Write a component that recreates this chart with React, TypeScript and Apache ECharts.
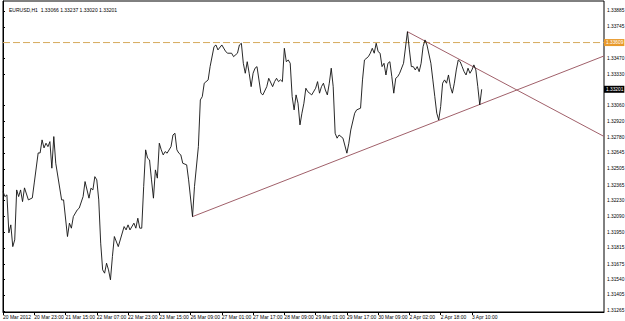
import React, { useEffect, useRef } from "react";
import * as echarts from "echarts";

const headerText = "EURUSD,H1  1.33066 1.33237 1.33020 1.33201";

const barIndex = [
  0, 1, 2, 3, 4, 5, 6, 7, 8, 9, 10, 11, 13, 15, 16, 18, 19, 20, 21, 22, 23, 24, 25, 26, 27, 30, 31, 33, 34, 35, 36, 38, 39, 41, 42,
  44, 45, 46, 47, 48, 49, 50, 51, 52, 53, 54, 55, 56, 57, 59, 62, 63, 64, 65, 67, 68, 69, 70, 71, 72, 73, 74, 75, 76, 77, 78, 79,
  80, 81, 82, 83, 84, 86, 87, 88, 89, 90, 91, 92, 94, 95, 97, 98, 100, 101, 102, 103, 105, 106, 108, 109, 110, 112, 114, 115, 117,
  118, 120, 121, 122, 123, 124, 125, 126, 127, 128, 129, 130, 132, 133, 135, 136, 138, 139, 140, 141, 142, 143, 144, 145, 146, 147,
  148, 149, 150, 151, 152, 153, 154, 155, 156, 158, 160, 161, 162, 163, 164, 165, 166, 167, 168, 169, 170, 171, 172, 173, 174, 176,
  177, 178, 180, 181, 183, 184, 185, 187, 188, 189, 190, 191, 192, 193, 194, 195, 196, 197, 198, 199, 200, 201, 202, 203, 205, 207,
  208, 209, 210, 211, 212, 213, 214, 215, 216, 217, 219, 220, 221, 222, 223, 224, 225, 226, 227, 228, 229, 230, 231, 232, 233, 234,
  235, 236, 237, 238, 239, 240, 241, 242, 243, 244, 245,
];

const closePrice = [
  1.32307, 1.32264, 1.32279, 1.31947, 1.32017, 1.31827, 1.31886, 1.32322, 1.32264, 1.32322, 1.3222, 1.3234, 1.32235, 1.32252,
  1.32383, 1.32645, 1.32645, 1.32759, 1.32689, 1.3273, 1.327, 1.32744, 1.32512, 1.32788, 1.32555, 1.32235, 1.32235, 1.31915,
  1.32032, 1.31988, 1.32089, 1.32148, 1.32163, 1.32264, 1.32395, 1.3225, 1.32337, 1.32322, 1.32438, 1.3241, 1.32235, 1.31857,
  1.31624, 1.31595, 1.31682, 1.31624, 1.31537, 1.3174, 1.31915, 1.31827, 1.32002, 1.31973, 1.32017, 1.31973, 1.32032, 1.31988,
  1.32075, 1.31988, 1.31988, 1.32351, 1.32672, 1.32599, 1.32584, 1.3241, 1.3225, 1.32497, 1.32425, 1.3273, 1.32672, 1.32628,
  1.32657, 1.32643, 1.327, 1.32802, 1.32817, 1.32672, 1.32643, 1.32628, 1.32555, 1.32541, 1.3241, 1.32089, 1.32351, 1.327,
  1.33108, 1.33137, 1.33254, 1.33283, 1.33399, 1.33573, 1.33588, 1.33545, 1.33588, 1.3353, 1.33516, 1.33516, 1.33486, 1.33516,
  1.33588, 1.33603, 1.33428, 1.33341, 1.33442, 1.33341, 1.33224, 1.33341, 1.33385, 1.33399, 1.33167, 1.33152, 1.33224, 1.33297,
  1.33224, 1.33268, 1.33297, 1.33268, 1.33283, 1.33268, 1.33559, 1.33442, 1.33457, 1.33428, 1.33137, 1.33021, 1.33152, 1.33079,
  1.3289, 1.32992, 1.33079, 1.3321, 1.3318, 1.33152, 1.3321, 1.33268, 1.33167, 1.33224, 1.33254, 1.33195, 1.33152, 1.33254,
  1.33385, 1.33224, 1.32817, 1.32774, 1.32802, 1.32788, 1.32774, 1.32643, 1.3273, 1.32846, 1.32992, 1.33021, 1.33036, 1.33283,
  1.33457, 1.33486, 1.33516, 1.33559, 1.33516, 1.33603, 1.3353, 1.33516, 1.33399, 1.33428, 1.33326, 1.33428, 1.33442, 1.33311,
  1.33167, 1.33297, 1.33311, 1.33341, 1.33428, 1.33704, 1.33545, 1.33399, 1.33399, 1.3337, 1.33399, 1.33355, 1.33428, 1.33573,
  1.33632, 1.33588, 1.33428, 1.33283, 1.33137, 1.32992, 1.32933, 1.3305, 1.33254, 1.33283, 1.33254, 1.33326, 1.33224, 1.33167,
  1.33254, 1.3337, 1.33457, 1.33442, 1.33399, 1.33355, 1.33326, 1.33385, 1.33341, 1.3337, 1.33414, 1.3337, 1.33224, 1.33064,
  1.33201,
];

const lowerTrendBars = [97, 307.6];
const lowerTrendPrices = [1.32089, 1.33492];
const upperTrendBars = [207, 307.6];
const upperTrendPrices = [1.33704, 1.32789];

const axisStartBar = 0;
const axisEndBar = 307.6;
const levelPrice = 1.33609;
const bidPrice = 1.33201;

const timeTickBars = [0, 16, 32, 48, 64, 80, 96, 112, 128, 144, 160, 176, 192, 208, 224, 240];
const timeTickLabels = [
  "20 Mar 2012", "20 Mar 23:00", "21 Mar 15:00", "22 Mar 07:00", "22 Mar 23:00", "23 Mar 15:00", "26 Mar 09:00",
  "27 Mar 01:00", "27 Mar 17:00", "28 Mar 09:00", "29 Mar 01:00", "29 Mar 17:00", "30 Mar 09:00", "2 Apr 02:00",
  "2 Apr 18:00", "3 Apr 10:00",
];

const priceTicks = [
  1.33885, 1.33745, 1.3347, 1.3333, 1.3306, 1.3292, 1.3278, 1.32645, 1.32505, 1.32365, 1.3223, 1.3209, 1.3195, 1.31815,
  1.31675, 1.3154, 1.31405, 1.31265,
];

const FONT = "Liberation Sans, Arial, sans-serif";

export default function App() {
  const ref = useRef<HTMLDivElement>(null);
  useEffect(() => {
    if (!ref.current) return;
    const chart = echarts.init(ref.current, null, { renderer: "svg" });
    const priceData = barIndex.map((b, i) => [b, closePrice[i]]);
    const lowerData = lowerTrendBars.map((b, i) => [b, lowerTrendPrices[i]]);
    const upperData = upperTrendBars.map((b, i) => [b, upperTrendPrices[i]]);
    const levelData = [[axisStartBar, levelPrice], [axisEndBar, levelPrice]];
    const bidData = [[axisStartBar, bidPrice], [axisEndBar, bidPrice]];
    const tagLabel = (bg: string) => ({
      show: true,
      distance: 0,
      formatter: (p: any) => Number(p.value[1]).toFixed(5),
      backgroundColor: bg,
      color: "#fff",
      fontSize: 4.8,
      fontFamily: FONT,
      padding: [1, 1, 1, 2],
    });
    chart.setOption({
      animation: false,
      backgroundColor: "#ffffff",
      textStyle: { fontFamily: FONT },
      title: {
        text: headerText,
        left: 4,
        top: 2,
        textStyle: { fontSize: 5, fontWeight: "normal", color: "#000", fontFamily: FONT },
      },
      grid: {
        left: 3,
        right: 21,
        top: 1,
        bottom: 9,
        show: true,
        borderColor: "#000",
        borderWidth: 1,
        backgroundColor: "transparent",
        containLabel: false,
        outerBoundsMode: "none",
      },
      xAxis: {
        type: "value",
        min: axisStartBar,
        max: axisEndBar,
        interval: 16,
        axisLine: { show: true, lineStyle: { color: "#000", width: 1 } },
        splitLine: { show: false },
        axisTick: { show: true, length: 3, customValues: timeTickBars, lineStyle: { color: "#000" } },
        axisLabel: {
          customValues: timeTickBars,
          fontSize: 5,
          color: "#000",
          fontFamily: FONT,
          margin: 2,
          align: "left",
          formatter: (v: number) => {
            const idx = timeTickBars.indexOf(Math.round(v));
            return idx >= 0 ? timeTickLabels[idx] : "";
          },
        },
      },
      yAxis: {
        type: "value",
        position: "right",
        min: 1.31256,
        max: 1.33972,
        scale: true,
        axisLine: { show: true, lineStyle: { color: "#000", width: 1 } },
        splitLine: { show: false },
        axisTick: { show: true, length: 2, customValues: priceTicks, lineStyle: { color: "#000" } },
        axisLabel: {
          customValues: priceTicks,
          fontSize: 4.8,
          color: "#000",
          fontFamily: FONT,
          margin: 3,
          formatter: (v: number) => v.toFixed(5),
        },
      },
      series: [
        {
          type: "line",
          data: levelData,
          showSymbol: false,
          silent: true,
          clip: false,
          lineStyle: { color: "#d6aa5c", type: [7, 3], width: 1 },
          endLabel: tagLabel("#e89a2c"),
          z: 1,
        },
        {
          type: "line",
          data: bidData,
          showSymbol: false,
          silent: true,
          clip: false,
          lineStyle: { color: "#000", opacity: 0, width: 1 },
          endLabel: tagLabel("#000"),
          z: 1,
        },
        {
          type: "line",
          data: lowerData,
          showSymbol: false,
          silent: true,
          lineStyle: { color: "#a0606a", width: 1 },
          z: 2,
        },
        {
          type: "line",
          data: upperData,
          showSymbol: false,
          silent: true,
          lineStyle: { color: "#a0606a", width: 1 },
          z: 2,
        },
        {
          type: "line",
          data: priceData,
          showSymbol: false,
          silent: true,
          lineStyle: { color: "#111", width: 0.9 },
          z: 3,
        },
      ],
    });
    return () => chart.dispose();
  }, []);
  return (
    <div
      ref={ref}
      style={{ position: "fixed", left: 0, top: 0, width: 625, height: 321, background: "#fff" }}
    />
  );
}
